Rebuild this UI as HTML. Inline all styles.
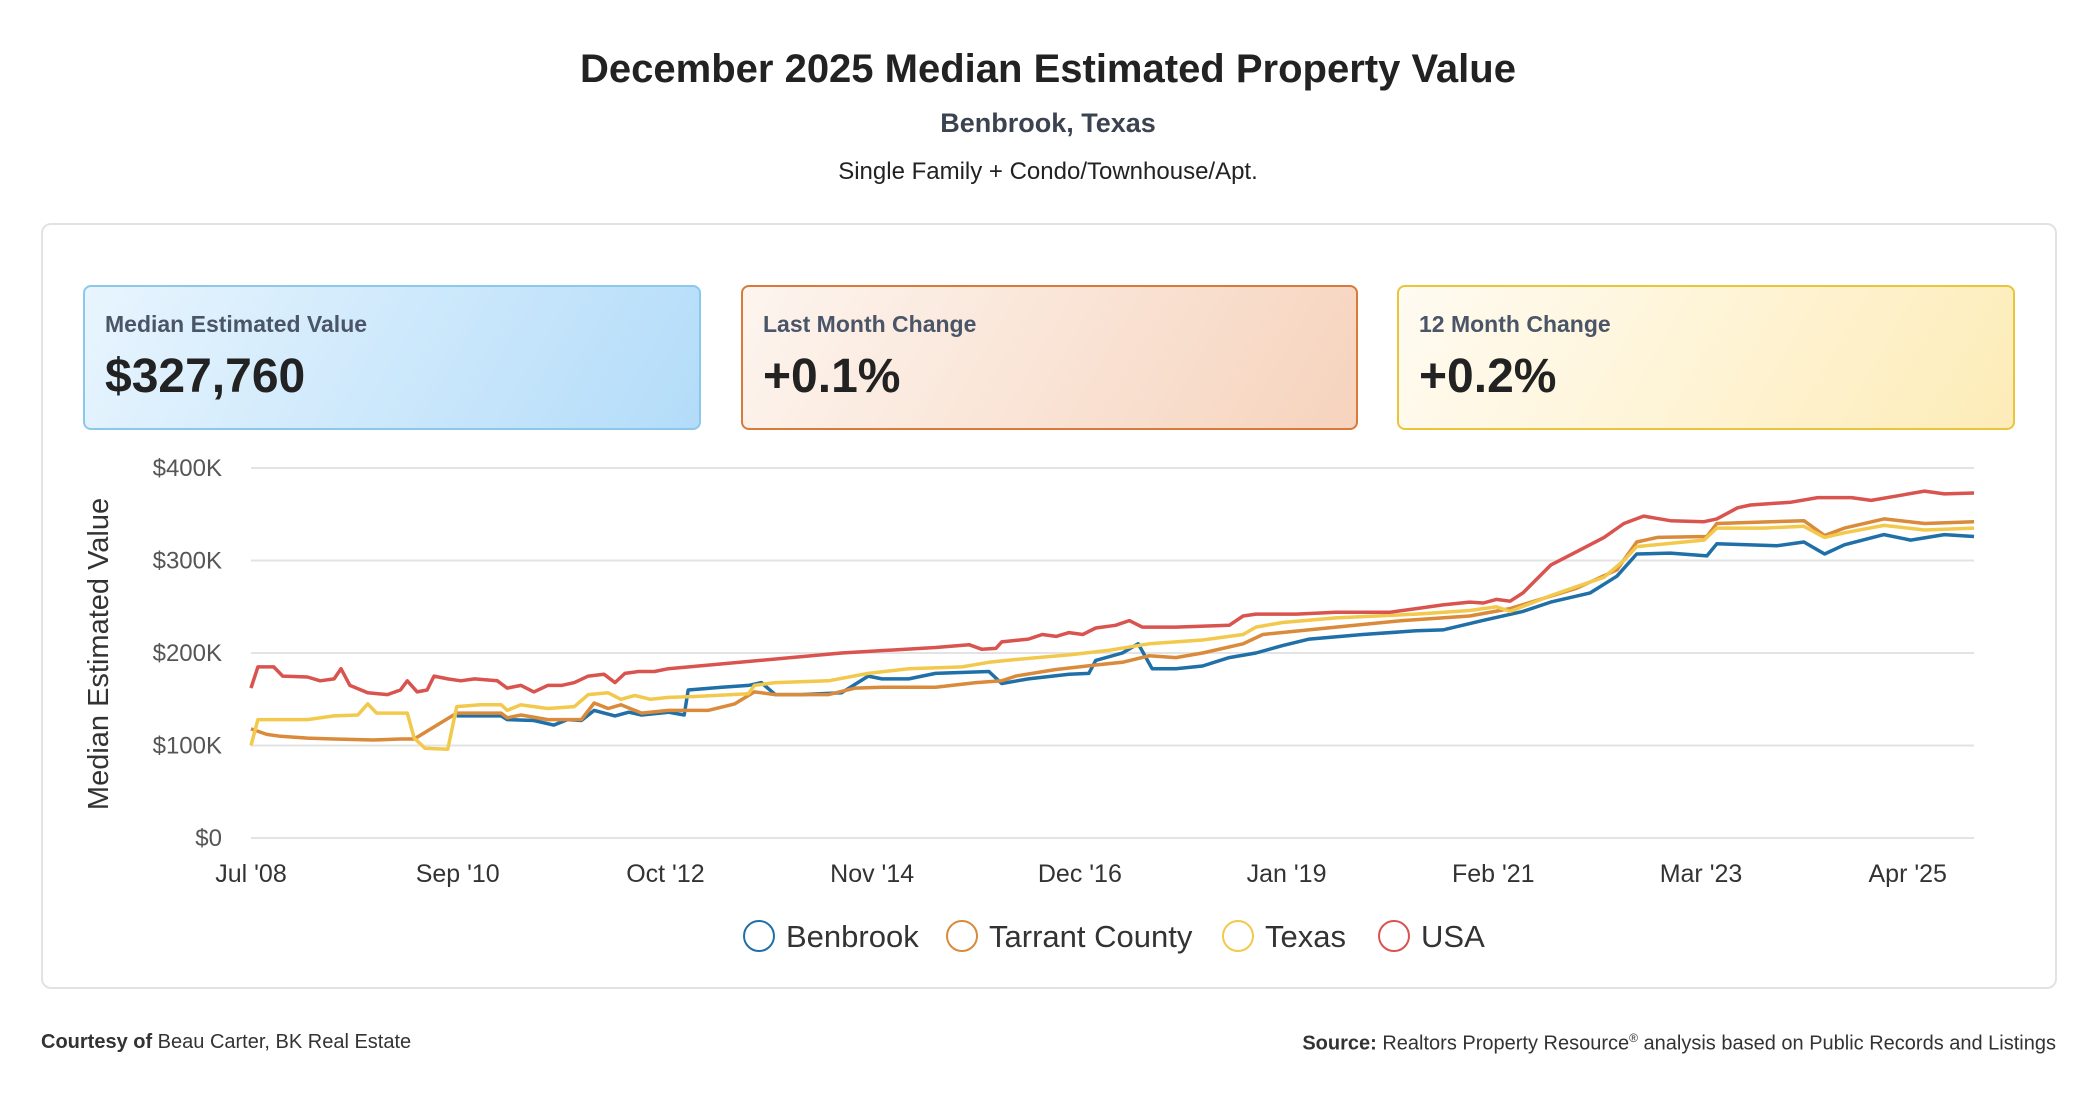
<!DOCTYPE html>
<html><head><meta charset="utf-8">
<style>
body{margin:0;width:2096px;height:1100px;background:#fff;font-family:"Liberation Sans",sans-serif;position:relative;overflow:hidden}
.abs{position:absolute}
.title{left:0;width:2096px;text-align:center;top:47px;font-size:40px;font-weight:bold;color:#222}
.sub{left:0;width:2096px;text-align:center;top:108px;font-size:27px;font-weight:bold;color:#3b4350}
.sub2{left:0;width:2096px;text-align:center;top:158px;font-size:24px;color:#222}
.card{left:41px;top:223px;width:2012px;height:762px;border:2px solid #dfe3e6;border-radius:10px}
.box{top:285px;height:141px;border-radius:8px;border:2px solid}
.box .lab{position:absolute;left:20px;top:24px;font-size:23px;font-weight:bold;color:#4a5568}
.box .val{position:absolute;left:20px;top:62px;font-size:48px;font-weight:bold;color:#222}
.foot{top:1031px;font-size:20px;color:#333}
</style></head><body>
<div class="abs title">December 2025 Median Estimated Property Value</div>
<div class="abs sub">Benbrook, Texas</div>
<div class="abs sub2">Single Family + Condo/Townhouse/Apt.</div>
<div class="abs card"></div>
<div class="abs box" style="left:83px;width:614px;border-color:#8cc8ea;background:linear-gradient(120deg,#e8f5fe,#b3dcf9)"><div class="lab">Median Estimated Value</div><div class="val">$327,760</div></div>
<div class="abs box" style="left:741px;width:613px;border-color:#d9793a;background:linear-gradient(120deg,#fdf5ef,#f6d3bd)"><div class="lab">Last Month Change</div><div class="val">+0.1%</div></div>
<div class="abs box" style="left:1397px;width:614px;border-color:#e8c53a;background:linear-gradient(120deg,#fffbf2,#fdecb8)"><div class="lab">12 Month Change</div><div class="val">+0.2%</div></div>
<svg class="abs" style="left:0;top:0" width="2096" height="1100" id="chart"></svg>
<div class="abs foot" style="left:41px"><b>Courtesy of</b> Beau Carter, BK Real Estate</div>
<div class="abs foot" style="right:40px"><b>Source:</b> Realtors Property Resource<sup style="font-size:12px">®</sup> analysis based on Public Records and Listings</div>
<script>
const yTicks=[0,100,200,300,400];
const yTickLabels=["$0","$100K","$200K","$300K","$400K"];
const xTickYears=[2008.5,2010.59,2012.69,2014.78,2016.88,2018.97,2021.06,2023.16,2025.25];
const xTickLabels=["Jul '08","Sep '10","Oct '12","Nov '14","Dec '16","Jan '19","Feb '21","Mar '23","Apr '25"];
const seriesNames=["Benbrook","Tarrant County","Texas","USA"];
const benbrookDates=[2010.58,2011.03,2011.09,2011.36,2011.56,2011.7,2011.84,2011.97,2012.18,2012.32,2012.45,2012.72,2012.88,2012.92,2013.26,2013.53,2013.66,2013.8,2014.07,2014.47,2014.74,2014.88,2015.15,2015.42,2015.96,2016.09,2016.36,2016.77,2016.97,2017.04,2017.31,2017.47,2017.61,2017.85,2018.12,2018.39,2018.66,2018.93,2019.2,2019.74,2020.28,2020.55,2020.95,2021.36,2021.64,2022.04,2022.31,2022.51,2022.85,2023.22,2023.32,2023.93,2024.2,2024.41,2024.61,2025.01,2025.28,2025.62,2025.92];
const benbrookValues=[132,132,128,127,122,128,127,138,132,136,133,136,133,160,163,165,168,155,155,157,175,172,172,178,180,167,172,177,178,192,200,210,183,183,186,195,200,208,215,220,224,225,235,245,255,265,283,307,308,305,318,316,320,307,317,328,322,328,326];
const tarrantDates=[2008.5,2008.66,2008.8,2009.07,2009.34,2009.74,2010.01,2010.15,2010.58,2011.03,2011.09,2011.23,2011.5,2011.84,2011.97,2012.11,2012.24,2012.45,2012.72,2013.12,2013.39,2013.59,2013.8,2014.34,2014.61,2014.88,2015.42,2015.83,2016.09,2016.23,2016.63,2017.04,2017.31,2017.58,2017.85,2018.12,2018.53,2018.73,2019.47,2020.14,2020.82,2021.23,2021.9,2022.31,2022.51,2022.72,2023.22,2023.32,2024.2,2024.41,2024.61,2025.01,2025.42,2025.92];
const tarrantValues=[118,112,110,108,107,106,107,107,135,135,130,133,128,128,146,140,144,135,138,138,145,158,155,155,162,163,163,168,170,175,182,187,190,197,195,200,210,220,228,235,240,248,270,290,320,325,326,340,343,327,335,345,340,342];
const texasDates=[2008.5,2008.57,2009.07,2009.34,2009.58,2009.68,2009.77,2010.08,2010.15,2010.26,2010.49,2010.58,2010.82,2011.03,2011.09,2011.23,2011.36,2011.5,2011.77,2011.91,2012.11,2012.24,2012.38,2012.54,2012.72,2012.99,2013.53,2013.59,2013.8,2014.34,2014.74,2015.15,2015.69,2015.96,2016.23,2016.77,2017.18,2017.58,2018.12,2018.53,2018.66,2018.93,2019.47,2020.28,2020.82,2021.09,2021.23,2021.64,2022.18,2022.38,2022.51,2022.99,2023.19,2023.32,2023.8,2024.2,2024.41,2024.61,2025.01,2025.42,2025.92];
const texasValues=[100,128,128,132,133,145,135,135,108,97,96,142,144,144,138,144,142,140,142,155,157,150,154,150,152,153,156,165,168,170,178,183,185,190,193,198,203,210,214,220,228,233,238,242,246,250,245,262,282,300,315,320,322,335,335,337,325,330,338,333,335];
const usaDates=[2008.5,2008.57,2008.73,2008.82,2009.07,2009.2,2009.34,2009.41,2009.5,2009.68,2009.88,2010.01,2010.08,2010.18,2010.28,2010.35,2010.49,2010.62,2010.76,2010.99,2011.09,2011.23,2011.36,2011.5,2011.64,2011.77,2011.91,2012.07,2012.18,2012.28,2012.42,2012.58,2012.72,2014.47,2015.42,2015.76,2015.89,2016.03,2016.09,2016.36,2016.5,2016.64,2016.77,2016.91,2017.04,2017.24,2017.38,2017.51,2017.85,2018.39,2018.53,2018.66,2019.07,2019.47,2020.01,2020.28,2020.55,2020.82,2020.96,2021.09,2021.23,2021.36,2021.64,2021.91,2022.18,2022.38,2022.58,2022.85,2023.19,2023.32,2023.53,2023.66,2024.07,2024.34,2024.68,2024.88,2025.15,2025.42,2025.62,2025.92];
const usaValues=[162,185,185,175,174,170,172,183,165,157,155,160,170,158,160,175,172,170,172,170,162,165,158,165,165,168,175,177,168,178,180,180,183,200,206,209,204,205,212,215,220,218,222,220,227,230,235,228,228,230,240,242,242,244,244,248,252,255,254,258,256,265,295,310,325,340,348,343,342,345,357,360,363,368,368,365,370,375,372,373];
const allDates=[benbrookDates,tarrantDates,texasDates,usaDates];
const allValues=[benbrookValues,tarrantValues,texasValues,usaValues];
const colors=["#1f6fa8","#d98a3a","#f2c94c","#d9534f"];

const NS="http://www.w3.org/2000/svg";
const svg=document.getElementById('chart');
const L=251,R=1974,T=468,B=838,t0=2008.5,t1=2025.92,vmax=400;
function xs(t){return L+(t-t0)/(t1-t0)*(R-L);}
function ys(v){return B-v/vmax*(B-T);}
function mk(tag,attrs,txt){const e=document.createElementNS(NS,tag);for(const k in attrs)e.setAttribute(k,attrs[k]);if(txt!==undefined)e.textContent=txt;svg.appendChild(e);return e;}
yTicks.forEach((v,i)=>{
  const g=mk('line',{x1:L,x2:R,y1:ys(v),y2:ys(v),stroke:'#e3e3e3','stroke-width':2});
  
  
  const t=mk('text',{x:222,y:ys(v)+8,'text-anchor':'end','font-size':24,fill:'#555','font-family':'Liberation Sans, sans-serif'},yTickLabels[i]);
  
  
});
xTickYears.forEach((y,i)=>{
  const t=mk('text',{x:xs(y),y:882,'text-anchor':'middle','font-size':25,fill:'#333','font-family':'Liberation Sans, sans-serif'},xTickLabels[i]);
  
  
});
const yt=mk('text',{x:0,y:0,transform:'translate(108,654) rotate(-90)','text-anchor':'middle','font-size':29,fill:'#333','font-family':'Liberation Sans, sans-serif'},'Median Estimated Value');


allDates.forEach((d,s)=>{
  const pts=d.map((t,i)=>xs(t).toFixed(1)+','+ys(allValues[s][i]).toFixed(1)).join(' ');
  const p=mk('polyline',{points:pts,fill:'none',stroke:colors[s],'stroke-width':3.5,'stroke-linejoin':'round'});
  
  
});
const legCx=[759,962,1238,1394];
seriesNames.forEach((n,i)=>{
  const c=mk('circle',{cx:legCx[i],cy:936,r:15,fill:'none',stroke:colors[i],'stroke-width':2});
  
  
  const t=mk('text',{x:legCx[i]+27,y:947,'font-size':31,fill:'#333','font-family':'Liberation Sans, sans-serif'},n);
  
  
});
</script>
</body></html>
